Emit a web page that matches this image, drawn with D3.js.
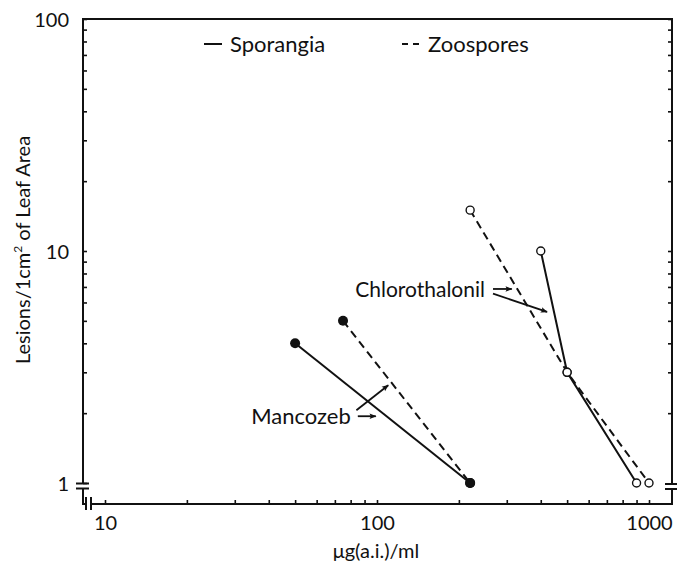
<!DOCTYPE html>
<html lang="en">
<head>
<meta charset="utf-8">
<script src="https://d3js.org/d3.v7.min.js"></script>
<style>
	body { margin: 0; background: #fff; }
	svg { background: #fff; display: block; }
	text { font-family: Lato, 'Open Sans', sans-serif; fill: #111; }
	.frame { fill: none; stroke: #111; stroke-width: 2px; }
	.series { fill: none; stroke: #111; stroke-width: 2px; }
	.dashed { stroke-dasharray: 8,5; }
	.tick line { stroke: #111; stroke-width: 1.6px; }
	.tick text { font-size: 20px; }
	.note { font-size: 21px; }
	.legend-text { font-size: 22px; }
	.arrow { stroke: #111; stroke-width: 1.8px; fill: none; }
</style>
</head>
<body>
<div id="chart"></div>
<script>

var width = 677, height = 565;

// data (dose in ug a.i./ml, lesions per cm2)
var mancozebSporX = [50, 220];
var mancozebSporY = [4, 1];
var mancozebZooX = [75, 220];
var mancozebZooY = [5, 1];
var chloroSporX = [400, 500, 900];
var chloroSporY = [10, 3, 1];
var chloroZooX = [220, 500, 1000];
var chloroZooY = [15, 3, 1];

var xTicks = [10, 100, 1000];
var yTicks = [1, 10, 100];

// annotation arrows, in data units: [x0, y0, x1, y1]
var mancozebArrows = [[85, 1.94, 99, 1.94], [84, 2.06, 110, 2.64]];
var chloroArrows = [[267, 6.86, 313, 6.86], [267, 6.55, 422, 5.46]];

// frame edges
var frameL = 83, frameR = 672, frameT = 19, frameB = 504;

var x = d3.scaleLog().domain([10, 1000]).range([105, 649]);
var y = d3.scaleLog().domain([1, 100]).range([483, 19]);

function minorTicks(lo, hi) {
	var out = [];
	for (var p = lo; p < hi; p *= 10)
		for (var k = 1; k < 10; k++) out.push(p * k);
	out.push(hi);
	return out;
}

var svg = d3.select("#chart").append("svg")
	.attr("width", width)
	.attr("height", height);

var defs = svg.append("defs");
defs.append("marker")
	.attr("id", "head")
	.attr("viewBox", "0 -5 10 10")
	.attr("refX", 9)
	.attr("refY", 0)
	.attr("markerWidth", 9)
	.attr("markerHeight", 7)
	.attr("markerUnits", "userSpaceOnUse")
	.attr("orient", "auto")
	.append("path")
	.attr("d", "M0,-4L10,0L0,4L2,0Z")
	.style("fill", "#111");

// axes (ticks point inward)
var fmt = function(d) { return xTicks.indexOf(d) >= 0 ? d : ""; };
var fmtY = function(d) { return yTicks.indexOf(d) >= 0 ? d : ""; };

var gx = svg.append("g")
	.attr("transform", "translate(0," + frameB + ")")
	.call(d3.axisBottom(x).tickValues(minorTicks(10, 1000)).tickFormat(fmt)
		.tickSize(-4).tickPadding(12));
gx.select(".domain").remove();

var gy = svg.append("g")
	.attr("transform", "translate(" + frameL + ",0)")
	.call(d3.axisLeft(y).tickValues(minorTicks(1, 100)).tickFormat(fmtY)
		.tickSize(-4).tickPadding(14));
gy.select(".domain").remove();
gy.selectAll(".tick text").attr("dy", "0.36em");

var gr = svg.append("g")
	.attr("transform", "translate(" + frameR + ",0)")
	.call(d3.axisRight(y).tickValues(minorTicks(1, 100).slice(1)).tickFormat("")
		.tickSize(-4));
gr.select(".domain").remove();

// frame with axis breaks
var y1 = y(1);
var frame = svg.append("g");
frame.append("path").attr("class", "frame")
	.attr("d", "M" + frameL + "," + y1 + "V" + frameT + "H" + frameR + "V" + (y1 + 1));
frame.append("path").attr("class", "frame")
	.attr("d", "M" + frameL + "," + (y1 + 5) + "V" + frameB + "H" + (frameL + 3));
frame.append("path").attr("class", "frame")
	.attr("d", "M" + (frameL + 8) + "," + frameB + "H" + frameR + "V" + (y1 + 6));
// break marks
frame.append("path").attr("class", "frame")
	.attr("d", "M" + (frameL - 7) + "," + (y1 + 0.5) + "h13M" + (frameL - 7) + "," + (y1 + 5.5) + "h13" +
		"M" + (frameR - 7) + "," + (y1 + 1) + "h12M" + (frameR - 7) + "," + (y1 + 6) + "h12" +
		"M" + (frameL + 3) + "," + (frameB - 7) + "v13M" + (frameL + 8) + "," + (frameB - 7) + "v13");

// series
var line = d3.line()
	.x(function(d) { return x(d[0]); })
	.y(function(d) { return y(d[1]); });

var series = [
	{xs: mancozebSporX, ys: mancozebSporY, dash: false, filled: true},
	{xs: mancozebZooX, ys: mancozebZooY, dash: true, filled: true},
	{xs: chloroSporX, ys: chloroSporY, dash: false, filled: false},
	{xs: chloroZooX, ys: chloroZooY, dash: true, filled: false}
];

series.forEach(function(s) {
	var pts = s.xs.map(function(v, i) { return [v, s.ys[i]]; });
	svg.append("path")
		.datum(pts)
		.attr("class", s.dash ? "series dashed" : "series")
		.attr("d", line);
});

series.forEach(function(s) {
	var pts = s.xs.map(function(v, i) { return [v, s.ys[i]]; });
	svg.selectAll(null)
		.data(pts)
		.enter()
		.append("circle")
		.attr("cx", function(d) { return x(d[0]); })
		.attr("cy", function(d) { return y(d[1]); })
		.attr("r", s.filled ? 5 : 4)
		.style("fill", s.filled ? "#111" : "#fff")
		.style("stroke", "#111")
		.style("stroke-width", s.filled ? 0 : 1.4);
});

// labels with arrows
svg.append("text").attr("class", "legend-text")
	.attr("x", x(mancozebArrows[0][0]) - 7)
	.attr("y", y(mancozebArrows[0][1]) + 8)
	.attr("text-anchor", "end")
	.text("Mancozeb");

svg.append("text").attr("class", "note")
	.attr("x", x(chloroArrows[0][0]) - 8)
	.attr("y", y(chloroArrows[0][1]) + 8)
	.attr("text-anchor", "end")
	.text("Chlorothalonil");

svg.selectAll(".arrow")
	.data(mancozebArrows.concat(chloroArrows))
	.enter()
	.append("line")
	.attr("class", "arrow")
	.attr("x1", function(d) { return x(d[0]); })
	.attr("y1", function(d) { return y(d[1]); })
	.attr("x2", function(d) { return x(d[2]); })
	.attr("y2", function(d) { return y(d[3]); })
	.attr("marker-end", "url(#head)");

// legend
var legend = svg.append("g").attr("transform", "translate(204,44)");
legend.append("line").attr("class", "series")
	.attr("x1", 0).attr("x2", 18).attr("y1", 0).attr("y2", 0);
legend.append("text").attr("class", "legend-text")
	.attr("x", 26).attr("y", 8).text("Sporangia");
legend.append("line").attr("class", "series dashed")
	.attr("x1", 198).attr("x2", 217).attr("y1", 0).attr("y2", 0)
	.style("stroke-dasharray", "6,5");
legend.append("text").attr("class", "legend-text")
	.attr("x", 224).attr("y", 8).text("Zoospores");

// axis titles
svg.append("text").attr("class", "note")
	.attr("x", 376).attr("y", 558)
	.attr("text-anchor", "middle")
	.style("font-size", "20px")
	.text("μg(a.i.)/ml");

svg.append("text").attr("class", "note")
	.attr("transform", "translate(30,250) rotate(-90)")
	.attr("text-anchor", "middle")
	.style("font-size", "20px")
	.html("Lesions/1cm<tspan dy='-8' font-size='12'>2</tspan><tspan dy='8'> of Leaf Area</tspan>");

</script>
</body>
</html>
